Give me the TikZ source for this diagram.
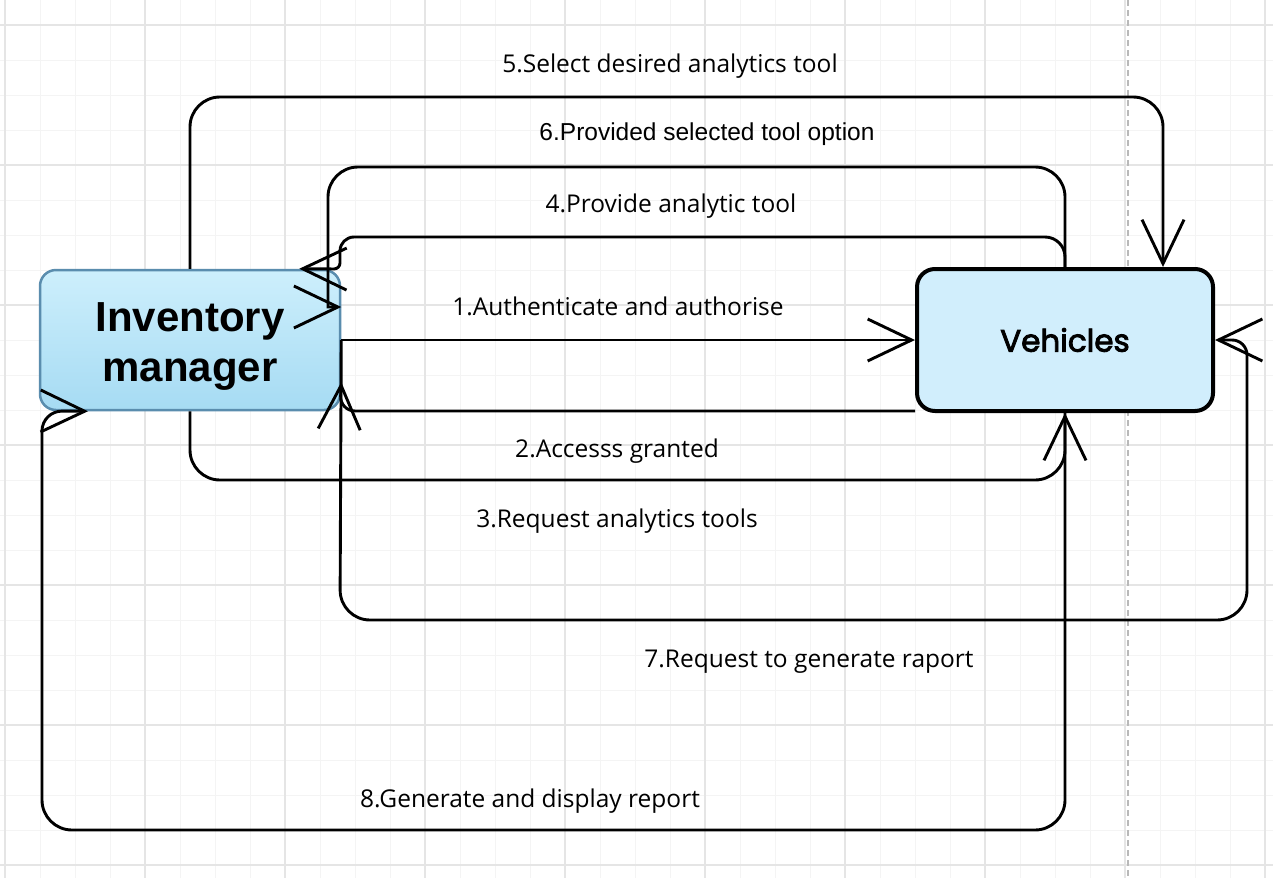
\documentclass[tikz,border=0pt]{standalone}
\usepackage{fontspec}
\setmainfont{Open Sans}
\newfontfamily\arialfont{Liberation Sans}
\newfontfamily\vehfont[FakeBold=2.8]{Poppins}
\usepackage{tikz}
\usetikzlibrary{arrows.meta}

\definecolor{invtop}{HTML}{CDEFFC}
\definecolor{invbot}{HTML}{A6DBF3}
\definecolor{invline}{HTML}{5A8DAE}
\definecolor{vehfill}{HTML}{D1EEFC}

\begin{document}
\begin{tikzpicture}[x=1pt,y=-1pt,
	minorgrid/.style={gray!9,line width=1pt},
	majorgrid/.style={gray!20,line width=1.3pt},
	flow/.style={line width=2.9pt,rounded corners=30pt,-{Straight Barb[length=44pt,width=42pt]}},
	lbl/.style={font=\fontsize{24.5}{29}\selectfont,inner sep=0pt,anchor=base}]
	
	\useasboundingbox (0,0) rectangle (1273,878);
	\fill[white] (0,0) rectangle (1273,878);
	
	% grid
	\foreach \gx in {5,40,...,1265}
		\draw[minorgrid] (\gx,0) -- (\gx,878);
	\foreach \gy in {25,60,...,865}
		\draw[minorgrid] (0,\gy) -- (1273,\gy);
	\foreach \gx in {5,145,...,1265}
		\draw[majorgrid] (\gx,0) -- (\gx,878);
	\foreach \gy in {25,165,...,865}
		\draw[majorgrid] (0,\gy) -- (1273,\gy);
	\draw[gray!55,line width=1.5pt,dash pattern=on 6pt off 4pt] (1128,0) -- (1128,878);
	
	\node[draw=invline,line width=2.5pt,rounded corners=16pt,top color=invtop,bottom color=invbot,
		minimum width=300pt,minimum height=140pt,align=center,
		font=\arialfont\bfseries\fontsize{42}{50}\selectfont] (inv) at (190,340) {\rule{0pt}{42pt}Inventory\\manager};
	\node[draw=black,line width=4pt,rounded corners=18pt,fill=vehfill,
		minimum width=296pt,minimum height=142pt,
		font=\vehfont\fontsize{31}{37}\selectfont] (veh) at (1065,340) {Vehicles};
	
	% connectors
	\draw[flow] (inv.east) -- (veh.west);
	\draw[flow] ([yshift=2pt]veh.south west) [rounded corners=15pt] -- (340,411) -- ([yshift=-42pt]inv.east);
	\draw[flow] (inv.east) -- (340,620) -- (1247,620) [rounded corners=15pt] -- (1247,340) -- (veh.east);
	\draw[flow] (veh.north) [rounded corners=20pt] -- (1065,237) [rounded corners=14pt] -- (340,237) [rounded corners=6pt] -- (340,269) -- ([xshift=-42pt]inv.north east);
	\draw[flow] (inv.north) -- (190,97) -- (1163,97) -- ([xshift=98pt]veh.north);
	\draw[flow] (veh.north) -- (1065,167) -- (328,167) [sharp corners] -- (328,307) -- ([yshift=33pt]inv.east);
	\draw[flow] (inv.south) -- (190,480) -- (1065,480) -- (veh.south);
	\draw[flow] (veh.south) -- (1065,830) -- (42,830) [rounded corners=20pt] -- (42,411) -- ([xshift=-102pt]inv.south);
	
	% labels
	\node[lbl] (lbl5) at (670,72) {5.Select desired analytics tool};
	\node[lbl,font=\arialfont\fontsize{24.5}{29}\selectfont] (lbl6) at (707,140) {6.Provided selected tool option};
	\node[lbl] (lbl4) at (671,212) {4.Provide analytic tool};
	\node[lbl] (lbl1) at (618,315) {1.Authenticate and authorise};
	\node[lbl] (lbl2) at (617,457) {2.Accesss granted};
	\node[lbl] (lbl3) at (617,527) {3.Request analytics tools};
	\node[lbl] (lbl7) at (809,667) {7.Request to generate raport};
	\node[lbl] (lbl8) at (530,807) {8.Generate and display report};
	
\end{tikzpicture}
\end{document}
